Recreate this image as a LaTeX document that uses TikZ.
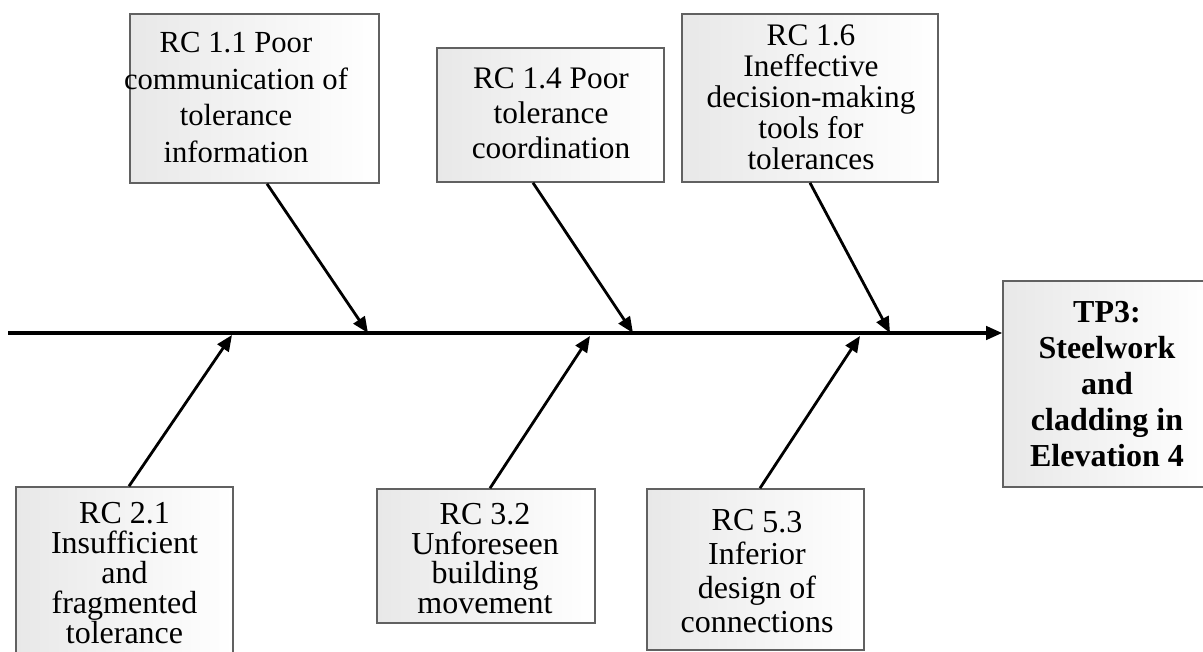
\documentclass[tikz,border=0pt]{standalone}
\usepackage{fontspec}
\setmainfont{Liberation Serif}
\usetikzlibrary{arrows.meta}
\tikzset{
  box/.style={draw=black!62, line width=1.2pt, left color=black!9, right color=white, inner sep=0pt},
  txt/.style={align=center, inner sep=0pt, anchor=north, text=black},
  arr/.style={line width=2.1pt, -{Triangle[length=12pt,width=10pt]}},
  spine/.style={line width=2.3pt, -{Triangle[length=12pt,width=10pt]}}
}
\begin{document}
\begin{tikzpicture}[x=0.75pt,y=-0.75pt]
\useasboundingbox (0,0) rectangle (1203,652);
% boxes
\node[box, minimum width=186.75pt, minimum height=126.75pt] (b11) at (254.5,98.5) {};
\node[box, minimum width=170.25pt, minimum height=100.5pt] (b14) at (550.5,115) {};
\node[box, minimum width=192pt, minimum height=126pt] (b16) at (810,98) {};
\node[box, minimum width=155.25pt, minimum height=154.5pt] (tp) at (1106.5,384) {};
\node[box, minimum width=162.75pt, minimum height=129.75pt] (b21) at (124.5,573.5) {};
\node[box, minimum width=163.5pt, minimum height=100.5pt] (b32) at (486,556) {};
\node[box, minimum width=162.75pt, minimum height=120.75pt] (b53) at (755.5,569.5) {};
% texts
\node[txt, font=\fontsize{23}{27.5}\selectfont] (t11) at (236,32) {RC 1.1 Poor\\communication of\\tolerance\\information};
\node[txt, font=\fontsize{23.5}{26.6}\selectfont] (t14) at (551,67) {RC 1.4 Poor\\tolerance\\coordination};
\node[txt, font=\fontsize{23.5}{23.3}\selectfont] (t16) at (811,24) {RC 1.6\\Ineffective\\decision-making\\tools for\\tolerances};
\node[txt, font=\fontsize{24}{27}\selectfont\bfseries] (ttp) at (1107,301) {TP3:\\Steelwork\\and\\cladding in\\Elevation 4};
\node[txt, font=\fontsize{24}{22.5}\selectfont] (t21) at (124.5,502) {RC 2.1\\Insufficient\\and\\fragmented\\tolerance};
\node[txt, font=\fontsize{24}{22.2}\selectfont] (t32) at (485,503) {RC 3.2\\Unforeseen\\building\\movement};
\node[txt, font=\fontsize{24}{25.5}\selectfont] (t53) at (757,509) {RC {\raisebox{-1.5pt}{5.3}}\\Inferior\\design of\\connections};
% spine
\coordinate (s0) at (8,333);
\draw[spine] (s0) -- (tp.west |- s0);
% spine targets
\coordinate (u1) at (368,333);
\coordinate (u2) at (633,333);
\coordinate (u3) at (890,333);
\coordinate (l1) at (232,335);
\coordinate (l2) at (590,336);
\coordinate (l3) at (860,336);
% branches
\draw[arr] (267,0 |- b11.south) -- (u1);
\draw[arr] (533,0 |- b14.south) -- (u2);
\draw[arr] (810,0 |- b16.south) -- (u3);
\draw[arr] (129,0 |- b21.north) -- (l1);
\draw[arr] (490,0 |- b32.north) -- (l2);
\draw[arr] (760,0 |- b53.north) -- (l3);
\end{tikzpicture}
\end{document}
